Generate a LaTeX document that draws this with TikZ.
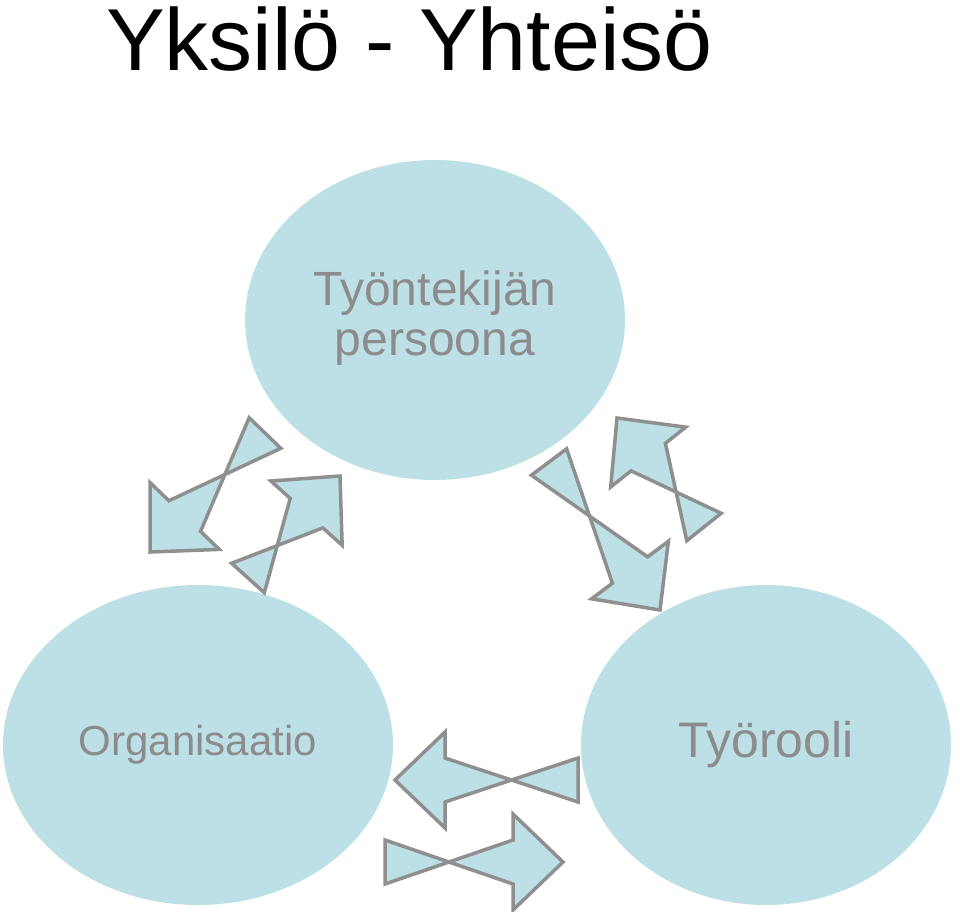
\documentclass[tikz,border=0pt]{standalone}
\usepackage{fontspec}
\setmainfont{Liberation Sans}
\usetikzlibrary{calc}
\definecolor{bub}{HTML}{BCE0E5}
\definecolor{txt}{HTML}{8C8C8C}
\definecolor{edge}{HTML}{8F8F8F}
\tikzset{bubble/.style={fill=bub,draw=none},
 blk/.style={fill=bub,draw=edge,line width=3.5pt,line join=miter}}
\newcommand\barr[2]{%
 \draw[blk] ($(#1)!22pt!90:(#2)$) -- ($($(#2)!50pt!(#1)$)!22pt!-90:(#2)$)
  -- ($($(#2)!50pt!(#1)$)!48pt!-90:(#2)$) -- (#2)
  -- ($($(#2)!50pt!(#1)$)!48pt!90:(#2)$) -- ($($(#2)!50pt!(#1)$)!22pt!90:(#2)$)
  -- ($(#1)!22pt!-90:(#2)$) -- cycle;}
\begin{document}
\begin{tikzpicture}[x=1pt,y=-1pt]
\useasboundingbox (0,0) rectangle (960,911);
\node[anchor=base west,inner sep=0,font=\fontsize{88}{88}\selectfont] (title) at (106,70) {Yksilö - Yhteisö};
\fill[bubble] (435,320) ellipse[x radius=190,y radius=160];
\fill[bubble] (198,745) ellipse[x radius=195,y radius=160];
\fill[bubble] (766,745) ellipse[x radius=185,y radius=160];
\node[align=center,text=txt,font=\fontsize{48}{50}\selectfont] (p) at (435,318) {Työntekijän\\persoona};
\node[text=txt,font=\fontsize{42}{44}\selectfont] (o) at (198,745) {Organisaatio};
\node[text=txt,font=\fontsize{50}{52}\selectfont] (r) at (766,745) {Työrooli};
\coordinate (a1s) at (265,433); \coordinate (a1t) at (150,552);
\coordinate (a2s) at (248,578); \coordinate (a2t) at (340,476);
\coordinate (a3s) at (549,462); \coordinate (a3t) at (660,610);
\coordinate (a4s) at (704,527); \coordinate (a4t) at (617,418);
\coordinate (a5s) at (578,780); \coordinate (a5t) at (395,780);
\coordinate (a6s) at (385,862); \coordinate (a6t) at (563,862);
\barr{a1s}{a1t}\barr{a2s}{a2t}\barr{a3s}{a3t}
\barr{a4s}{a4t}\barr{a5s}{a5t}\barr{a6s}{a6t}
\end{tikzpicture}
\end{document}
